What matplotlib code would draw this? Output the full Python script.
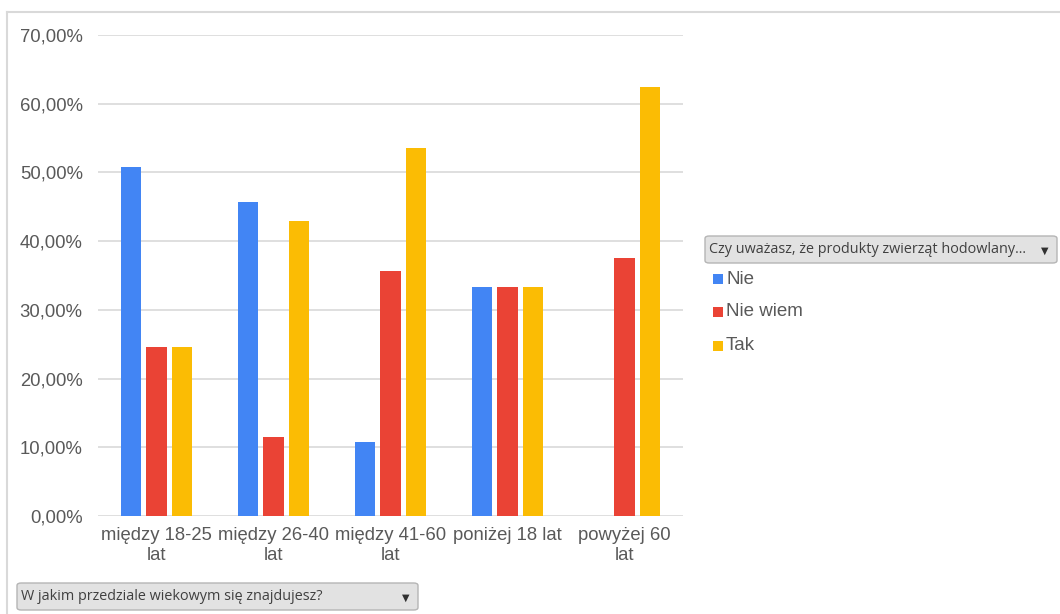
import numpy as np
import matplotlib
matplotlib.use("Agg")
import matplotlib.pyplot as plt
from matplotlib.patches import FancyBboxPatch, Rectangle
from matplotlib.lines import Line2D
from matplotlib.ticker import FuncFormatter

# Data
age_groups = ["między 18-25\nlat", "między 26-40\nlat", "między 41-60\nlat",
              "poniżej 18 lat", "powyżej 60\nlat"]
series_names = ["Nie", "Nie wiem", "Tak"]
nie = [50.82, 45.71, 10.71, 33.33, 0.0]
nie_wiem = [24.59, 11.43, 35.71, 33.33, 37.5]
tak = [24.59, 42.86, 53.57, 33.33, 62.5]
colors = ["#4285F4", "#EA4335", "#FBBC04"]

legend_title = "Czy uważasz, że produkty zwierząt hodowlany..."
axis_button = "W jakim przedziale wiekowym się znajdujesz?"

W, H = 1060, 614
fig = plt.figure(figsize=(W / 100, H / 100), dpi=100)

def px(x, y):
    # pixel (from top-left) -> figure fraction
    return x / W, 1 - y / H

# outer frame (top and left edges visible)
fig.add_artist(Line2D([7 / W, 1], [1 - 12 / H, 1 - 12 / H], color="#d9d9d9", lw=1.5))
fig.add_artist(Line2D([7 / W, 7 / W], [0, 1 - 12 / H], color="#d9d9d9", lw=1.5))

ax = fig.add_axes([98 / W, 1 - 516 / H, (683 - 98) / W, (516 - 35) / H])

x = np.arange(len(age_groups))
width = 0.171
offset = 0.218
for i, (vals, c) in enumerate(zip([nie, nie_wiem, tak], colors)):
    ax.bar(x + (i - 1) * offset, vals, width, color=c, zorder=3)

ax.set_xlim(-0.5, len(age_groups) - 0.5)
ax.set_ylim(0, 70)
ax.set_yticks(np.arange(0, 71, 10))
ax.yaxis.set_major_formatter(FuncFormatter(lambda v, p: f"{v:.2f}%".replace(".", ",")))
ax.set_xticks(x)
ax.set_xticklabels(age_groups, linespacing=1.25)
ax.grid(axis="y", color="#d9d9d9", lw=1.2, zorder=0)
for s in ax.spines.values():
    s.set_visible(False)
ax.tick_params(axis="both", length=0, labelsize=13.3, labelcolor="#595959")
ax.tick_params(axis="y", pad=11)
ax.tick_params(axis="x", pad=8)
for t in ax.get_xticklabels() + ax.get_yticklabels():
    t.set_fontfamily("Liberation Sans")

def button(x0, y0, x1, y1, text):
    bx, by = px(x0, y1)
    bw, bh = (x1 - x0) / W, (y1 - y0) / H
    fig.add_artist(FancyBboxPatch((bx, by), bw, bh,
                                  boxstyle="round,pad=0,rounding_size=0.004",
                                  transform=fig.transFigure,
                                  facecolor="#e2e2e2", edgecolor="#b5b5b5", lw=1))
    tx, ty = px(x0 + 4, (y0 + y1) / 2)
    fig.text(tx, ty, text, ha="left", va="center", fontsize=10.4,
             color="#404040", family="Open Sans")
    ax2x, ax2y = px(x1 - 12, (y0 + y1) / 2 + 1)
    fig.text(ax2x, ax2y, "▼", ha="center", va="center", fontsize=7,
             color="#303030", family="DejaVu Sans")

button(705, 236, 1057, 263, legend_title)
button(17, 583, 418, 610, axis_button)

# legend entries
for name, c, yy in zip(series_names, colors, [279, 312, 346]):
    sx, sy = px(713, yy + 5)
    fig.add_artist(Rectangle((sx, sy), 10 / W, 10 / H, transform=fig.transFigure,
                             facecolor=c, edgecolor="none"))
    tx, ty = px(726, yy)
    fig.text(tx, ty, name, ha="left", va="center", fontsize=13.5,
             color="#595959", family="Liberation Sans")

fig.savefig("out.png", dpi=100)
